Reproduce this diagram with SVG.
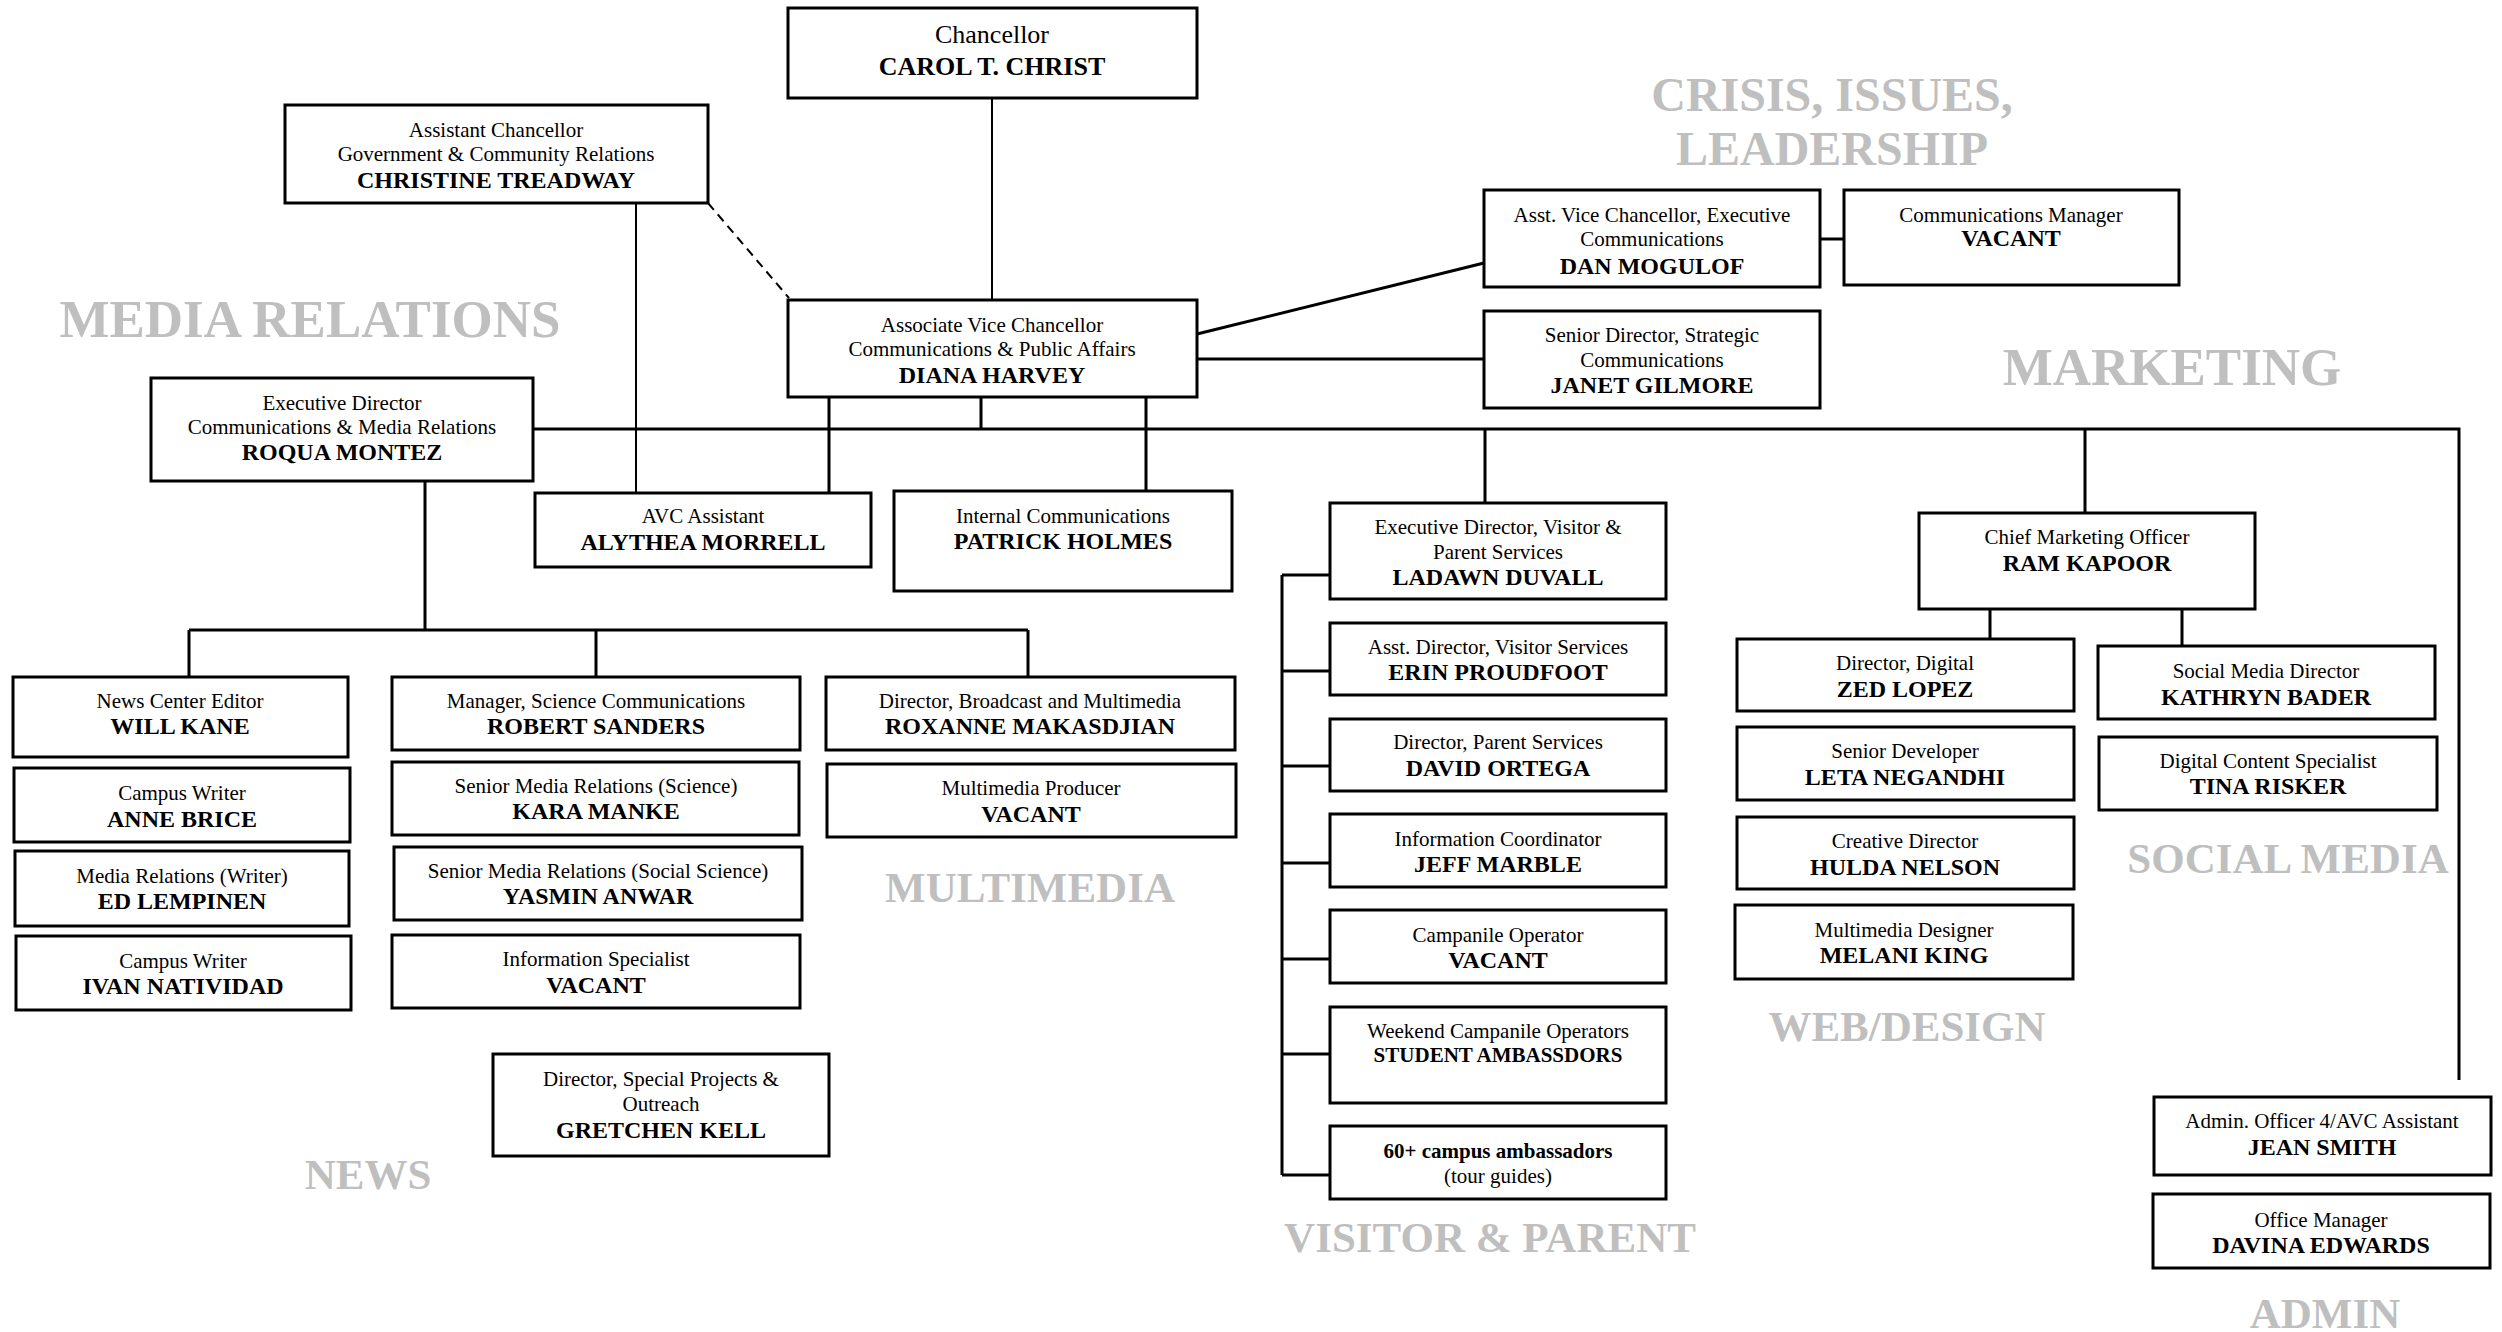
<svg xmlns="http://www.w3.org/2000/svg" width="2502" height="1332" viewBox="0 0 2502 1332">
<style>
.box{fill:#fff;stroke:#000;stroke-width:3}
text{font-family:"Liberation Serif","Times New Roman",serif;text-anchor:middle;fill:#000}
.t{font-size:21px}
.n{font-size:24px;font-weight:bold}
.nb{font-size:21px;font-weight:bold}
.big{font-size:26px}
.bigb{font-size:26px;font-weight:bold}
.sec{font-weight:bold;fill:#BFBFBF}
.ln{fill:none;stroke:#000;stroke-width:3}
.thin{fill:none;stroke:#000;stroke-width:2}
</style>
<rect width="2502" height="1332" fill="#fff"/>
<g id="connectors">
<path class="thin" d="M992 98V300"/>
<path class="thin" d="M636 203V493"/>
<path class="thin" d="M708 203L789 298" stroke-dasharray="9 6"/>
<path class="ln" d="M533 429H2459V1080"/>
<path class="ln" d="M829 397V493M981 397V429M1146 397V491"/>
<path class="ln" d="M1197 334L1484 263M1197 359H1484"/>
<path class="ln" d="M1820 239H1844"/>
<path class="ln" d="M425 481V630M189 630H1028M189 630V677M596 630V677M1028 630V677"/>
<path class="ln" d="M1485 429V503M2085 429V513"/>
<path class="ln" d="M1282 575V1175M1282 575H1330M1282 671H1330M1282 766H1330M1282 863H1330M1282 959H1330M1282 1054H1330M1282 1175H1330"/>
<path class="ln" d="M1990 609V639M2182 609V646"/>
</g>
<g id="chancellor"><rect class="box" x="788" y="8" width="409" height="90"/><text class="big" x="992" y="43">Chancellor</text><text class="bigb" x="992" y="75">CAROL T. CHRIST</text></g>
<g id="treadway"><rect class="box" x="285" y="105" width="423" height="98"/><text class="t" x="496" y="137">Assistant Chancellor</text><text class="t" x="496" y="161">Government &amp; Community Relations</text><text class="n" x="496" y="188">CHRISTINE TREADWAY</text></g>
<g id="harvey"><rect class="box" x="788" y="300" width="409" height="97"/><text class="t" x="992" y="332">Associate Vice Chancellor</text><text class="t" x="992" y="356">Communications &amp; Public Affairs</text><text class="n" x="992" y="383">DIANA HARVEY</text></g>
<g id="montez"><rect class="box" x="151" y="378" width="382" height="103"/><text class="t" x="342" y="410">Executive Director</text><text class="t" x="342" y="434">Communications &amp; Media Relations</text><text class="n" x="342" y="460">ROQUA MONTEZ</text></g>
<g id="morrell"><rect class="box" x="535" y="493" width="336" height="74"/><text class="t" x="703" y="523">AVC Assistant</text><text class="n" x="703" y="550">ALYTHEA MORRELL</text></g>
<g id="holmes"><rect class="box" x="894" y="491" width="338" height="100"/><text class="t" x="1063" y="523">Internal Communications</text><text class="n" x="1063" y="549">PATRICK HOLMES</text></g>
<g id="mogulof"><rect class="box" x="1484" y="190" width="336" height="97"/><text class="t" x="1652" y="222">Asst. Vice Chancellor, Executive</text><text class="t" x="1652" y="246">Communications</text><text class="n" x="1652" y="274">DAN MOGULOF</text></g>
<g id="commmgr"><rect class="box" x="1844" y="190" width="335" height="95"/><text class="t" x="2011" y="222">Communications Manager</text><text class="n" x="2011" y="246">VACANT</text></g>
<g id="gilmore"><rect class="box" x="1484" y="311" width="336" height="97"/><text class="t" x="1652" y="342">Senior Director, Strategic</text><text class="t" x="1652" y="367">Communications</text><text class="n" x="1652" y="393">JANET GILMORE</text></g>
<g id="duvall"><rect class="box" x="1330" y="503" width="336" height="96"/><text class="t" x="1498" y="534">Executive Director, Visitor &amp;</text><text class="t" x="1498" y="559">Parent Services</text><text class="n" x="1498" y="585">LADAWN DUVALL</text></g>
<g id="proudfoot"><rect class="box" x="1330" y="623" width="336" height="72"/><text class="t" x="1498" y="654">Asst. Director, Visitor Services</text><text class="n" x="1498" y="680">ERIN PROUDFOOT</text></g>
<g id="ortega"><rect class="box" x="1330" y="719" width="336" height="72"/><text class="t" x="1498" y="749">Director, Parent Services</text><text class="n" x="1498" y="776">DAVID ORTEGA</text></g>
<g id="marble"><rect class="box" x="1330" y="814" width="336" height="73"/><text class="t" x="1498" y="846">Information Coordinator</text><text class="n" x="1498" y="872">JEFF MARBLE</text></g>
<g id="campanile"><rect class="box" x="1330" y="910" width="336" height="73"/><text class="t" x="1498" y="942">Campanile Operator</text><text class="n" x="1498" y="968">VACANT</text></g>
<g id="weekend"><rect class="box" x="1330" y="1007" width="336" height="96"/><text class="t" x="1498" y="1038">Weekend Campanile Operators</text><text class="nb" x="1498" y="1062">STUDENT AMBASSDORS</text></g>
<g id="ambassadors"><rect class="box" x="1330" y="1126" width="336" height="73"/><text class="nb" x="1498" y="1158">60+ campus ambassadors</text><text class="t" x="1498" y="1183">(tour guides)</text></g>
<g id="kapoor"><rect class="box" x="1919" y="513" width="336" height="96"/><text class="t" x="2087" y="544">Chief Marketing Officer</text><text class="n" x="2087" y="571">RAM KAPOOR</text></g>
<g id="lopez"><rect class="box" x="1737" y="639" width="337" height="72"/><text class="t" x="1905" y="670">Director, Digital</text><text class="n" x="1905" y="697">ZED LOPEZ</text></g>
<g id="negandhi"><rect class="box" x="1737" y="727" width="337" height="73"/><text class="t" x="1905" y="758">Senior Developer</text><text class="n" x="1905" y="785">LETA NEGANDHI</text></g>
<g id="nelson"><rect class="box" x="1737" y="817" width="337" height="72"/><text class="t" x="1905" y="848">Creative Director</text><text class="n" x="1905" y="875">HULDA NELSON</text></g>
<g id="king"><rect class="box" x="1735" y="905" width="338" height="74"/><text class="t" x="1904" y="937">Multimedia Designer</text><text class="n" x="1904" y="963">MELANI KING</text></g>
<g id="bader"><rect class="box" x="2098" y="646" width="337" height="73"/><text class="t" x="2266" y="678">Social Media Director</text><text class="n" x="2266" y="705">KATHRYN BADER</text></g>
<g id="risker"><rect class="box" x="2099" y="737" width="338" height="73"/><text class="t" x="2268" y="768">Digital Content Specialist</text><text class="n" x="2268" y="794">TINA RISKER</text></g>
<g id="smith"><rect class="box" x="2154" y="1097" width="337" height="78"/><text class="t" x="2322" y="1128">Admin. Officer 4/AVC Assistant</text><text class="n" x="2322" y="1155">JEAN SMITH</text></g>
<g id="edwards"><rect class="box" x="2153" y="1194" width="337" height="74"/><text class="t" x="2321" y="1227">Office Manager</text><text class="n" x="2321" y="1253">DAVINA EDWARDS</text></g>
<g id="kane"><rect class="box" x="13" y="677" width="335" height="80"/><text class="t" x="180" y="708">News Center Editor</text><text class="n" x="180" y="734">WILL KANE</text></g>
<g id="brice"><rect class="box" x="14" y="768" width="336" height="74"/><text class="t" x="182" y="800">Campus Writer</text><text class="n" x="182" y="827">ANNE BRICE</text></g>
<g id="lempinen"><rect class="box" x="15" y="851" width="334" height="75"/><text class="t" x="182" y="883">Media Relations (Writer)</text><text class="n" x="182" y="909">ED LEMPINEN</text></g>
<g id="natividad"><rect class="box" x="16" y="936" width="335" height="74"/><text class="t" x="183" y="968">Campus Writer</text><text class="n" x="183" y="994">IVAN NATIVIDAD</text></g>
<g id="sanders"><rect class="box" x="392" y="677" width="408" height="73"/><text class="t" x="596" y="708">Manager, Science Communications</text><text class="n" x="596" y="734">ROBERT SANDERS</text></g>
<g id="manke"><rect class="box" x="392" y="762" width="407" height="73"/><text class="t" x="596" y="793">Senior Media Relations (Science)</text><text class="n" x="596" y="819">KARA MANKE</text></g>
<g id="anwar"><rect class="box" x="394" y="847" width="408" height="73"/><text class="t" x="598" y="878">Senior Media Relations (Social Science)</text><text class="n" x="598" y="904">YASMIN ANWAR</text></g>
<g id="infospec"><rect class="box" x="392" y="935" width="408" height="73"/><text class="t" x="596" y="966">Information Specialist</text><text class="n" x="596" y="993">VACANT</text></g>
<g id="makasdjian"><rect class="box" x="826" y="677" width="409" height="73"/><text class="t" x="1030" y="708">Director, Broadcast and Multimedia</text><text class="n" x="1030" y="734">ROXANNE MAKASDJIAN</text></g>
<g id="mmproducer"><rect class="box" x="827" y="764" width="409" height="73"/><text class="t" x="1031" y="795">Multimedia Producer</text><text class="n" x="1031" y="822">VACANT</text></g>
<g id="kell"><rect class="box" x="493" y="1054" width="336" height="102"/><text class="t" x="661" y="1086">Director, Special Projects &amp;</text><text class="t" x="661" y="1111">Outreach</text><text class="n" x="661" y="1138">GRETCHEN KELL</text></g>
<g id="sections">
<text class="sec" x="310" y="337" font-size="53">MEDIA RELATIONS</text>
<text class="sec" x="1832" y="111" font-size="48">CRISIS, ISSUES,</text>
<text class="sec" x="1832" y="165" font-size="48">LEADERSHIP</text>
<text class="sec" x="2172" y="385" font-size="53">MARKETING</text>
<text class="sec" x="1030" y="902" font-size="43">MULTIMEDIA</text>
<text class="sec" x="368" y="1189" font-size="43">NEWS</text>
<text class="sec" x="1490" y="1252" font-size="43">VISITOR &amp; PARENT</text>
<text class="sec" x="1907" y="1041" font-size="43">WEB/DESIGN</text>
<text class="sec" x="2288" y="873" font-size="43">SOCIAL MEDIA</text>
<text class="sec" x="2325" y="1328" font-size="43">ADMIN</text>
</g>
</svg>
